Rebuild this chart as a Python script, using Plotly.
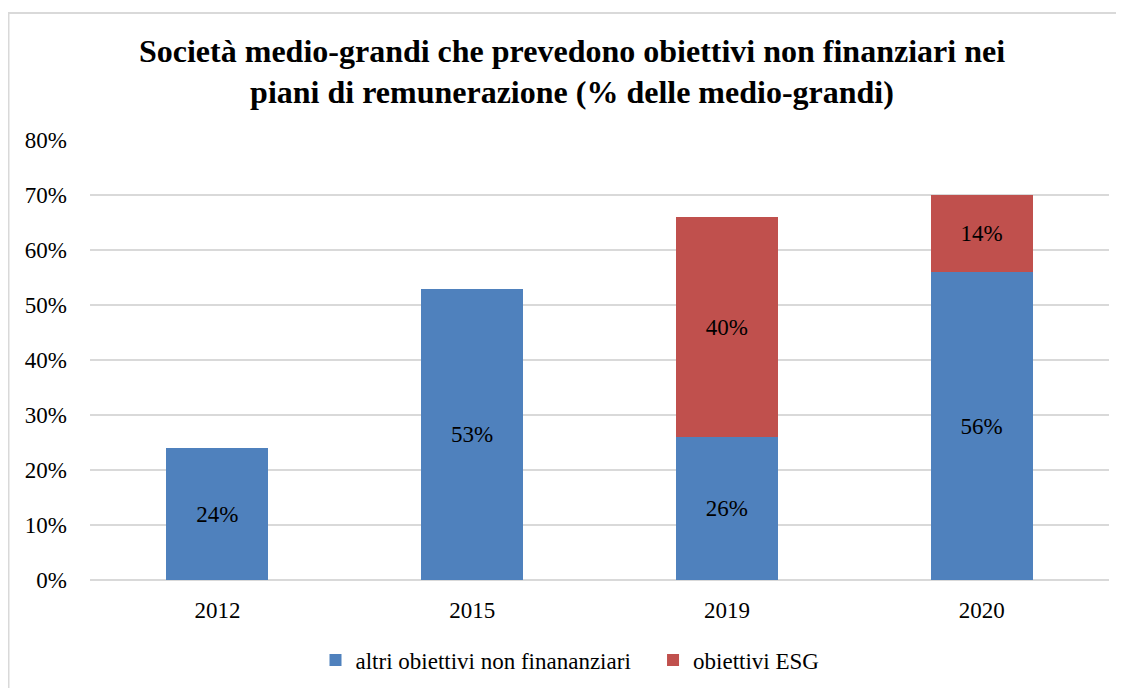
import plotly.graph_objects as go

years = ["2012", "2015", "2019", "2020"]
altri = [24, 53, 26, 56]
esg = [None, None, 40, 14]
y_ticks = [0, 10, 20, 30, 40, 50, 60, 70, 80]
y_tick_labels = [f"{v}%" for v in y_ticks]

FONT = "Liberation Serif"
# the page body adds an 8px margin, so the figure is 8px smaller than the window
W, H = 1116, 680
ML, MR, MT, MB = 82, 15, 132, 108

fig = go.Figure()
fig.add_trace(go.Bar(
    x=years, y=altri, name="altri obiettivi non finananziari" + "\u00a0" * 3,
    marker=dict(color="#4F81BD", line=dict(width=0)),
    text=[f"{v}%" for v in altri], textposition="inside", insidetextanchor="middle",
    textfont=dict(family=FONT, size=23, color="black"),
))
fig.add_trace(go.Bar(
    x=years, y=esg, name="obiettivi ESG",
    marker=dict(color="#C0504D", line=dict(width=0)),
    text=[f"{v}%" if v is not None else "" for v in esg], textposition="inside",
    insidetextanchor="middle",
    textfont=dict(family=FONT, size=23, color="black"),
))

pw = W - ML - MR
ph = H - MT - MB
fig.add_shape(type="rect", xref="paper", yref="paper",
              x0=(0.5 - ML) / pw, x1=(1140 - ML) / pw,
              y0=(H - MB - 720) / ph, y1=(H - MB - 5) / ph,
              line=dict(color="#D9D9D9", width=2), fillcolor="rgba(0,0,0,0)", layer="below")

fig.update_layout(
    width=W, height=H,
    barmode="stack", bargap=0.6,
    plot_bgcolor="white", paper_bgcolor="white",
    margin=dict(l=ML, r=MR, t=MT, b=MB, autoexpand=False),
    font=dict(family=FONT, size=23, color="black"),
    title=dict(
        text="<b>Società medio-grandi che prevedono obiettivi non finanziari nei<br>piani di remunerazione (% delle medio-grandi)</b>",
        x=564 / W, xanchor="center", y=(H - 53.5) / H, yanchor="middle",
        font=dict(family=FONT, size=32, color="black"),
    ),
    showlegend=True,
    legend=dict(orientation="h", xref="container", yref="container",
                x=562 / W, xanchor="center", y=(H - 652) / H, yanchor="middle",
                font=dict(family=FONT, size=23, color="black"), traceorder="normal",
                itemwidth=30),
    uniformtext=dict(minsize=10, mode="show"),
)
fig.update_yaxes(
    range=[0, 80], tickvals=y_ticks, ticktext=y_tick_labels,
    showgrid=True, gridcolor="#D9D9D9", gridwidth=1.5,
    zeroline=True, zerolinecolor="#D9D9D9", zerolinewidth=1.5,
    showline=False, ticks="", ticklabelstandoff=22, automargin=False,
    tickfont=dict(family=FONT, size=23, color="black"),
)
fig.update_xaxes(
    showgrid=False, showline=False, ticks="", ticklabelstandoff=14, automargin=False,
    tickfont=dict(family=FONT, size=23, color="black"),
)

fig.write_html("out.html")
